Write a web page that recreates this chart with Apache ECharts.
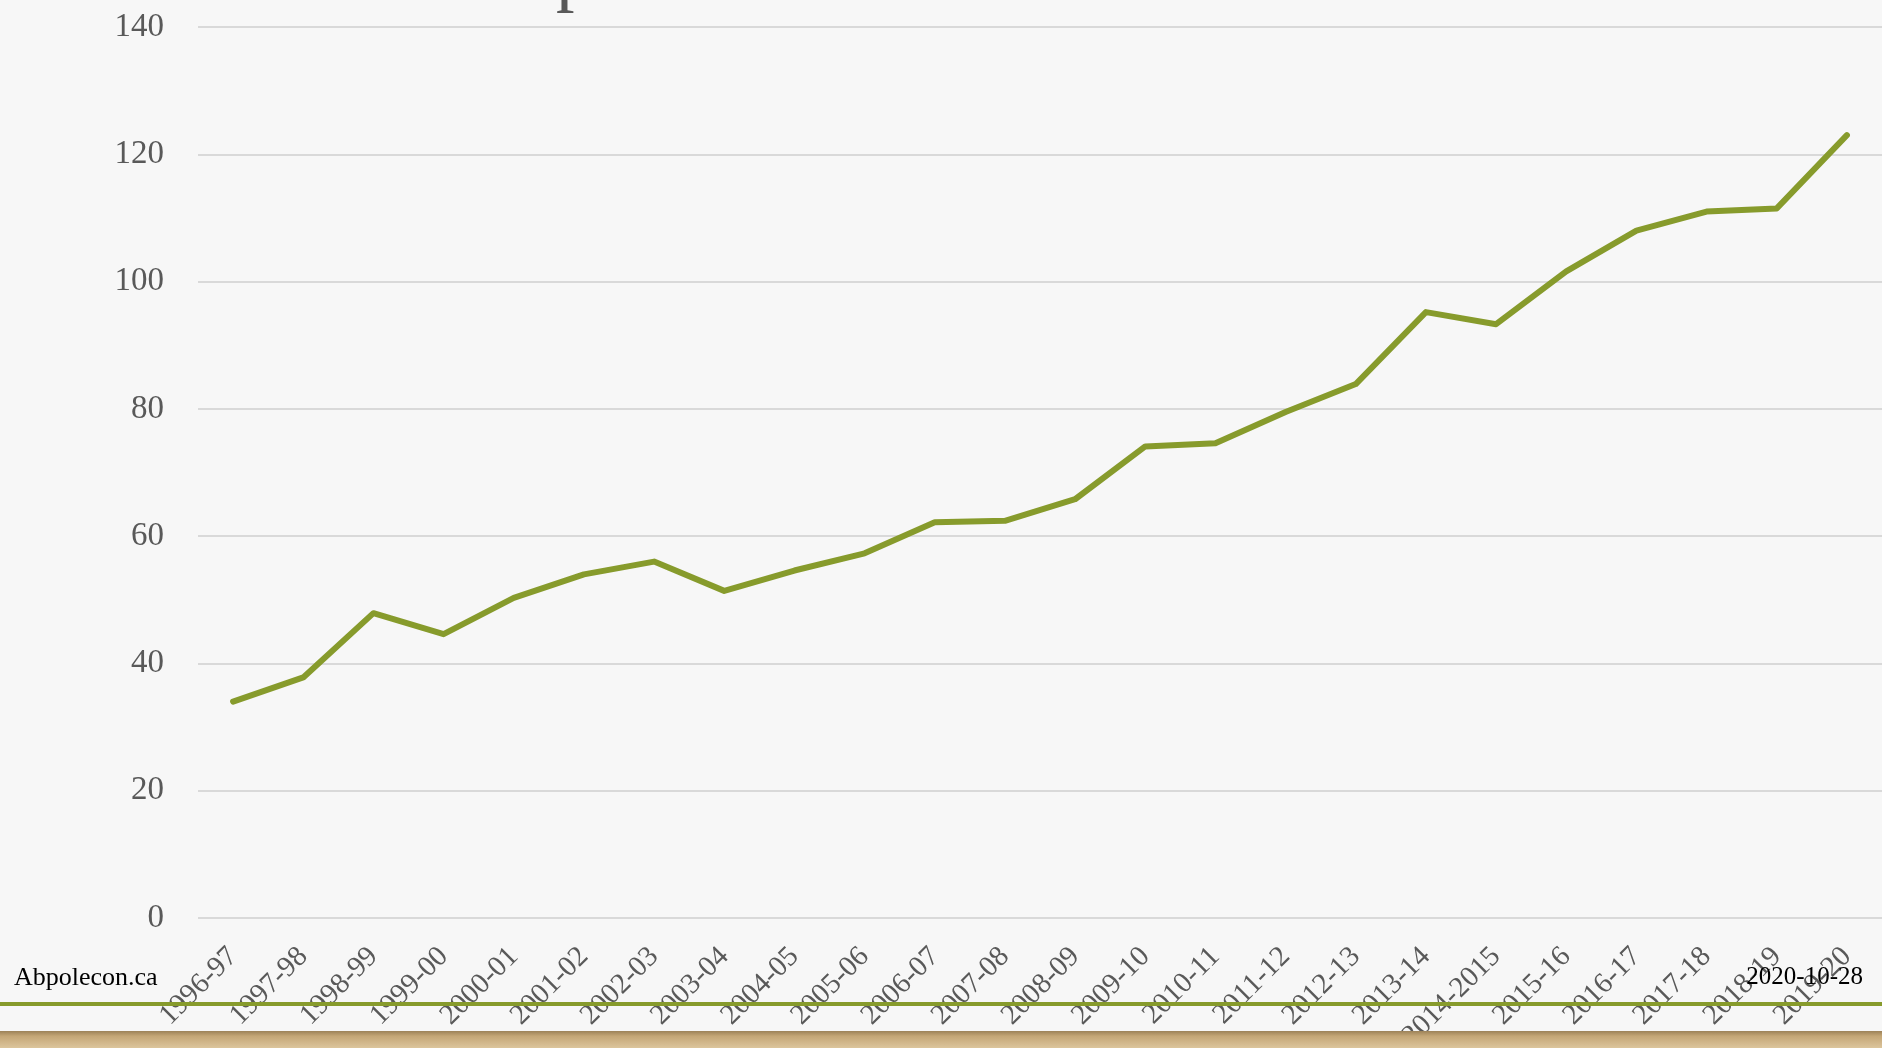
<!DOCTYPE html>
<html>
<head>
<meta charset="utf-8">
<script src="https://cdn.jsdelivr.net/npm/echarts@6/dist/echarts.min.js"></script>
<style>
html,body{margin:0;padding:0;background:#f7f7f7;}
#chart{width:1882px;height:1048px;}
</style>
</head>
<body>
<div id="chart"></div>
<script>
const categories = ["1996-97","1997-98","1998-99","1999-00","2000-01","2001-02","2002-03","2003-04","2004-05","2005-06","2006-07","2007-08","2008-09","2009-10","2010-11","2011-12","2012-13","2013-14","2014-2015","2015-16","2016-17","2017-18","2018-19","2019-20"];
const values = [34.0,37.8,47.9,44.6,50.3,54.0,56.0,51.4,54.6,57.3,62.2,62.4,65.8,74.1,74.6,79.5,83.9,95.2,93.3,101.6,108.0,111.0,111.5,123.0];
const yTicks = {min:0, max:140, interval:20};
const footerLeft = "Abpolecon.ca";
const footerRight = "2020-10-28";

const serif = '"Liberation Serif", "DejaVu Serif", serif';
const chart = echarts.init(document.getElementById('chart'));
chart.setOption({
  backgroundColor: '#f7f7f7',
  animation: false,
  grid: {left:198, right:0, top:27, bottom:130, containLabel:false, outerBoundsMode:'none'},
  xAxis: {
    type:'category', data: categories, boundaryGap:true,
    axisLine:{show:false}, axisTick:{show:false},
    axisLabel:{rotate:45, interval:0, fontSize:29, color:'#595959', fontFamily:serif, margin:34}
  },
  yAxis: {
    type:'value', min:yTicks.min, max:yTicks.max, interval:yTicks.interval,
    axisLine:{show:false}, axisTick:{show:false},
    axisLabel:{fontSize:33, color:'#595959', fontFamily:serif, margin:34},
    splitLine:{lineStyle:{color:'#d9d9d9', width:2}}
  },
  series: [{
    type:'line', data: values, symbol:'none', smooth:false,
    lineStyle:{color:'#879b2c', width:6, cap:'round', join:'round'},
    z:5
  }],
  graphic: [
    {type:'rect', left:0, top:1002, shape:{width:1882, height:4}, style:{fill:'#879b2c'}, z:1},
    {type:'rect', left:0, top:1031, shape:{width:1882, height:17},
      style:{fill:new echarts.graphic.LinearGradient(0,0,0,1,[{offset:0,color:'#9c8258'},{offset:0.3,color:'#c4a676'},{offset:1,color:'#dcc59c'}])}, z:1},
    {type:'text', left:14, top:965, style:{text:footerLeft, font:'26px ' + serif, fill:'#000'}, z:10},
    {type:'text', right:19, top:965, style:{text:footerRight, font:'25px ' + serif, fill:'#000'}, z:10},
    {type:'text', x:556, y:-59, style:{text:'p', font:'74px ' + serif, fill:'#595959', textVerticalAlign:'top'}, z:10}
  ]
});
</script>
</body>
</html>
